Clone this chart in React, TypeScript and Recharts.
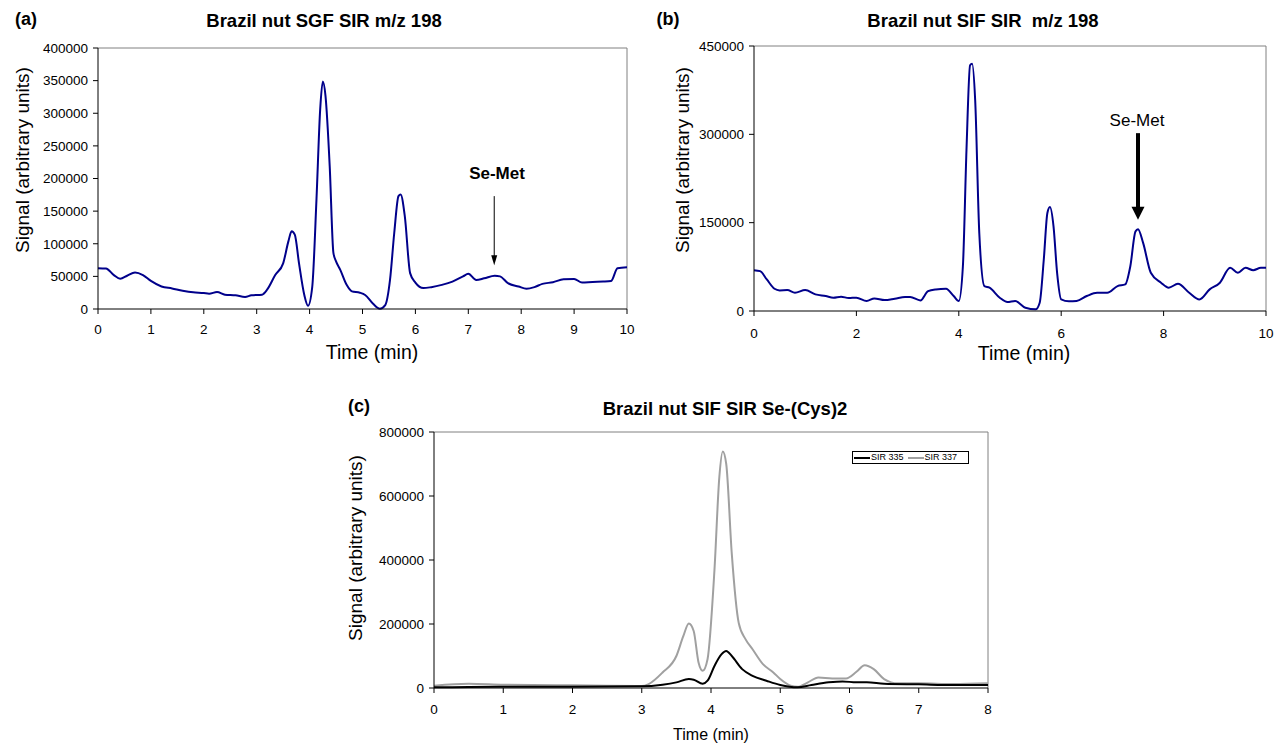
import React from 'react'
import { Line, LineChart, ReferenceLine, XAxis, YAxis } from 'recharts'

// (a) Brazil nut SGF SIR m/z 198
const timeA = [
  0, 0.15, 0.3, 0.42, 0.55, 0.7, 0.85, 1.0, 1.2, 1.4, 1.6, 1.8, 2.0, 2.1, 2.25, 2.4, 2.6, 2.78, 2.9,
  3.1, 3.2, 3.35, 3.5, 3.6, 3.66, 3.72, 3.8, 3.9, 3.97, 4.05, 4.13, 4.2, 4.25, 4.3, 4.38, 4.45, 4.5,
  4.58, 4.7, 4.8, 4.95, 5.05, 5.2, 5.33, 5.43, 5.52, 5.6, 5.68, 5.72, 5.8, 5.9, 6.0, 6.15, 6.3, 6.5,
  6.7, 6.9, 7.0, 7.15, 7.3, 7.5, 7.6, 7.75, 7.95, 8.1, 8.25, 8.4, 8.6, 8.8, 9.0, 9.15, 9.35, 9.55,
  9.7, 9.82, 10.0,
]
const signalA = [
  62500, 62000, 52000, 46500, 51000, 56000, 52000, 43000, 34500, 31500, 28000, 25500, 24500, 23500,
  26000, 22000, 21000, 18500, 21000, 22000, 30000, 52000, 70000, 104000, 119000, 114000, 70000,
  21500, 5000, 34000, 168000, 306000, 348500, 327000, 219000, 86000, 73000, 60000, 37000, 27000,
  25000, 21500, 8000, 500, 6000, 44500, 116500, 173000, 175500, 142000, 55000, 40500, 32000, 33500,
  37000, 42000, 50000, 54000, 44500, 47000, 51000, 50000, 39500, 34500, 31000, 33500, 38500, 41000,
  45500, 46000, 40500, 41500, 42000, 43000, 62500, 64000,
]

// (b) Brazil nut SIF SIR m/z 198
const timeB = [
  0, 0.12, 0.25, 0.4, 0.5, 0.65, 0.8, 1.0, 1.2, 1.4, 1.55, 1.7, 1.85, 2.0, 2.2, 2.35, 2.55, 2.75,
  2.95, 3.05, 3.25, 3.4, 3.55, 3.75, 3.9, 4.0, 4.08, 4.15, 4.22, 4.26, 4.32, 4.4, 4.5, 4.6, 4.8,
  4.95, 5.1, 5.3, 5.5, 5.58, 5.66, 5.73, 5.78, 5.85, 5.92, 6.0, 6.15, 6.3, 6.5, 6.7, 6.9, 7.1, 7.25,
  7.35, 7.45, 7.5, 7.6, 7.75, 7.95, 8.1, 8.28, 8.5, 8.7, 8.9, 9.1, 9.3, 9.45, 9.6, 9.75, 9.9, 10.0,
]
const signalB = [
  69400, 67700, 53600, 37800, 35000, 35500, 31000, 35500, 28200, 25400, 22600, 24300, 22000, 22600,
  17000, 21400, 18600, 20900, 23700, 23700, 18000, 33800, 36700, 37800, 25400, 17000, 76000, 273500,
  417300, 420000, 358000, 132500, 42300, 39500, 22600, 15200, 17000, 5600, 2800, 14100, 87400,
  166400, 176500, 143800, 64900, 19700, 16400, 17000, 25400, 31000, 31000, 42300, 45100, 76000,
  135000, 139000, 115600, 64900, 48000, 39500, 46200, 31000, 19700, 36700, 48000, 73300, 64900,
  73300, 69400, 73300, 73300,
]

// (c) Brazil nut SIF SIR Se-(Cys)2
const timeC337 = [
  0, 0.5, 1.0, 2.0, 2.5, 3.0, 3.1, 3.3, 3.5, 3.6, 3.68, 3.75, 3.82, 3.88, 3.95, 4.05, 4.12, 4.17,
  4.22, 4.3, 4.4, 4.5, 4.6, 4.75, 4.9, 5.0, 5.15, 5.25, 5.4, 5.55, 5.75, 5.95, 6.1, 6.22, 6.35, 6.5,
  6.7, 7.0, 7.5, 8.0,
]
const signalC337 = [
  7200, 13400, 10300, 8300, 7200, 6200, 12400, 48600, 100000, 162000, 201500, 178000, 79600, 53700,
  90000, 369000, 658000, 739000, 700000, 420000, 203600, 152000, 121000, 74400, 48600, 28000, 7200,
  4100, 17600, 33000, 30000, 30000, 50600, 71300, 59000, 28000, 14500, 14500, 12400, 14500,
]
const timeC335 = [
  0, 0.5, 1, 2, 3, 3.3, 3.5, 3.68, 3.75, 3.88, 3.95, 4.05, 4.15, 4.22, 4.3, 4.45, 4.6, 4.8, 5.0,
  5.25, 5.45, 5.7, 5.9, 6.1, 6.25, 6.5, 7.0, 7.5, 8.0,
]
const signalC335 = [
  2000, 3100, 4100, 4100, 5200, 10300, 17600, 28000, 26000, 13400, 22700, 69000, 105000, 115700,
  100000, 59000, 38000, 22700, 9300, 2000, 9300, 17600, 20700, 17600, 17600, 13400, 11400, 9300, 9300,
]

const ticksXA = [0, 1, 2, 3, 4, 5, 6, 7, 8, 9, 10]
const ticksYA = [0, 50000, 100000, 150000, 200000, 250000, 300000, 350000, 400000]
const ticksXB = [0, 2, 4, 6, 8, 10]
const ticksYB = [0, 150000, 300000, 450000]
const ticksXC = [0, 1, 2, 3, 4, 5, 6, 7, 8]
const ticksYC = [0, 200000, 400000, 600000, 800000]

const seriesNamesC = ['SIR 335', 'SIR 337']

const toRows = (t: number[], v: number[]) => t.map((time, i) => ({ time, signal: v[i] }))

const dataA = toRows(timeA, signalA)
const dataB = toRows(timeB, signalB)
const dataC335 = toRows(timeC335, signalC335)
const dataC337 = toRows(timeC337, signalC337)

const FONT = '"Liberation Sans", Arial, sans-serif'
const NAVY = '#00008b'
const BORDER = '#808080'

function arrowShape(width: number, headW: number, headH: number) {
  return (p: any) => {
    const { x1, y1, x2, y2 } = p
    return (
      <g>
        <line x1={x1} y1={y1} x2={x2} y2={y2 - headH + 1} stroke="#000" strokeWidth={width} />
        <polygon
          points={`${x2 - headW / 2},${y2 - headH} ${x2 + headW / 2},${y2 - headH} ${x2},${y2}`}
          fill="#000"
        />
      </g>
    )
  }
}

function Txt({
  x,
  y,
  size,
  bold,
  rotate,
  children,
}: {
  x: number
  y: number
  size: number
  bold?: boolean
  rotate?: boolean
  children: React.ReactNode
}) {
  return (
    <div
      style={{
        position: 'absolute',
        left: x,
        top: y,
        transform: `translate(-50%, -50%)${rotate ? ' rotate(-90deg)' : ''}`,
        fontSize: size,
        fontWeight: bold ? 'bold' : 'normal',
        whiteSpace: 'nowrap',
        lineHeight: 1,
        color: '#000',
      }}
    >
      {children}
    </div>
  )
}

const tickStyle = { fontSize: 13.5, fill: '#000', fontFamily: FONT }

export default function App() {
  return (
    <div
      style={{
        position: 'absolute',
        left: 0,
        top: 0,
        width: 1275,
        height: 744,
        background: '#fff',
        fontFamily: FONT,
        overflow: 'hidden',
      }}
    >
      {/* (a) */}
      <div style={{ position: 'absolute', left: 0, top: 0 }}>
        <LineChart width={640} height={370} data={dataA} margin={{ top: 48, right: 13, bottom: 0, left: 0 }}>
          <XAxis
            dataKey="time"
            type="number"
            domain={[0, 10]}
            ticks={ticksXA}
            height={61}
            tick={tickStyle}
            tickSize={5}
            tickMargin={10}
            stroke="#000"
            interval={0}
          />
          <YAxis
            type="number"
            domain={[0, 400000]}
            ticks={ticksYA}
            width={98}
            tick={tickStyle}
            tickSize={5}
            tickMargin={5}
            stroke="#000"
            interval={0}
          />
          <ReferenceLine y={400000} stroke={BORDER} />
          <ReferenceLine x={10} stroke={BORDER} />
          <Line
            dataKey="signal"
            type="monotone"
            stroke={NAVY}
            strokeWidth={2}
            dot={false}
            isAnimationActive={false}
          />
          <ReferenceLine
            segment={[
              { x: 7.49, y: 173000 },
              { x: 7.49, y: 67000 },
            ]}
            shape={arrowShape(1, 6, 10)}
          />
        </LineChart>
      </div>
      <Txt x={26} y={19} size={18} bold>(a)</Txt>
      <Txt x={324} y={21} size={18.5} bold>Brazil nut SGF SIR m/z 198</Txt>
      <Txt x={22} y={160} size={19} rotate>Signal (arbitrary units)</Txt>
      <Txt x={372} y={353} size={19.5}>Time (min)</Txt>
      <Txt x={497} y={173} size={17} bold>Se-Met</Txt>

      {/* (b) */}
      <div style={{ position: 'absolute', left: 640, top: 0 }}>
        <LineChart width={635} height={370} data={dataB} margin={{ top: 46, right: 9, bottom: 0, left: 0 }}>
          <XAxis
            dataKey="time"
            type="number"
            domain={[0, 10]}
            ticks={ticksXB}
            height={59}
            tick={tickStyle}
            tickSize={5}
            tickMargin={12}
            stroke="#000"
            interval={0}
          />
          <YAxis
            type="number"
            domain={[0, 450000]}
            ticks={ticksYB}
            width={114}
            tick={tickStyle}
            tickSize={5}
            tickMargin={5}
            stroke="#000"
            interval={0}
          />
          <ReferenceLine y={450000} stroke={BORDER} />
          <ReferenceLine x={10} stroke={BORDER} />
          <Line
            dataKey="signal"
            type="monotone"
            stroke={NAVY}
            strokeWidth={2}
            dot={false}
            isAnimationActive={false}
          />
          <ReferenceLine
            segment={[
              { x: 7.5, y: 302000 },
              { x: 7.5, y: 155000 },
            ]}
            shape={arrowShape(4, 13, 13)}
          />
        </LineChart>
      </div>
      <Txt x={668} y={19} size={18} bold>(b)</Txt>
      <Txt x={983} y={21} size={18.5} bold>
        Brazil nut SIF SIR{'\u00a0\u00a0'}m/z 198
      </Txt>
      <Txt x={682} y={160} size={19} rotate>Signal (arbitrary units)</Txt>
      <Txt x={1024} y={354} size={19.5}>Time (min)</Txt>
      <Txt x={1137} y={120} size={17}>Se-Met</Txt>

      {/* (c) */}
      <div style={{ position: 'absolute', left: 330, top: 380 }}>
        <LineChart width={680} height={364} margin={{ top: 52, right: 22, bottom: 0, left: 0 }}>
          <XAxis
            dataKey="time"
            type="number"
            domain={[0, 8]}
            ticks={ticksXC}
            height={56}
            tick={tickStyle}
            tickSize={5}
            tickMargin={11}
            stroke="#000"
            interval={0}
            allowDuplicatedCategory={false}
          />
          <YAxis
            type="number"
            domain={[0, 800000]}
            ticks={ticksYC}
            width={104}
            tick={tickStyle}
            tickSize={5}
            tickMargin={5}
            stroke="#000"
            interval={0}
          />
          <ReferenceLine y={800000} stroke={BORDER} />
          <ReferenceLine x={8} stroke={BORDER} />
          <Line
            data={dataC337}
            dataKey="signal"
            name={seriesNamesC[1]}
            type="monotone"
            stroke="#a0a0a0"
            strokeWidth={2}
            dot={false}
            isAnimationActive={false}
          />
          <Line
            data={dataC335}
            dataKey="signal"
            name={seriesNamesC[0]}
            type="monotone"
            stroke="#000"
            strokeWidth={2}
            dot={false}
            isAnimationActive={false}
          />
        </LineChart>
      </div>
      <Txt x={359} y={406} size={18} bold>(c)</Txt>
      <Txt x={725} y={409} size={18.5} bold>Brazil nut SIF SIR Se-(Cys)2</Txt>
      <Txt x={355} y={548} size={19} rotate>Signal (arbitrary units)</Txt>
      <Txt x={711} y={735} size={16}>Time (min)</Txt>
      <div
        style={{
          position: 'absolute',
          left: 852,
          top: 451,
          width: 117,
          height: 13,
          border: '1px solid #000',
          boxSizing: 'border-box',
          display: 'flex',
          alignItems: 'center',
          fontSize: 9,
          lineHeight: 1,
          paddingLeft: 1,
        }}
      >
        {seriesNamesC.map((name, i) => (
          <div key={name} style={{ display: 'flex', alignItems: 'center', marginRight: 4 }}>
            <span
              style={{
                display: 'inline-block',
                width: 16,
                height: 2,
                background: i === 0 ? '#000' : '#a0a0a0',
                marginRight: 1,
              }}
            />
            <span>{name}</span>
          </div>
        ))}
      </div>
    </div>
  )
}
